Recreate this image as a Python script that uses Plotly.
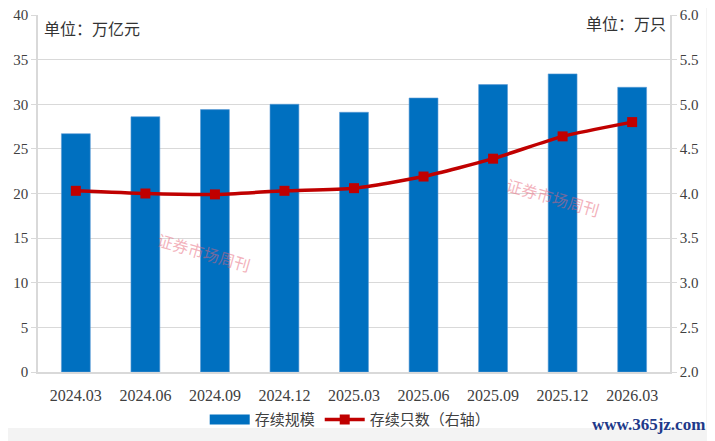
import plotly.graph_objects as go

# 数据
periods = ["2024.03", "2024.06", "2024.09", "2024.12", "2025.03",
           "2025.06", "2025.09", "2025.12", "2026.03"]
scale_trillion = [26.7, 28.6, 29.4, 30.0, 29.1, 30.7, 32.2, 33.4, 31.9]
count_10k = [4.03, 4.00, 3.99, 4.03, 4.06, 4.19, 4.39, 4.64, 4.80]

left_ticks = [0, 5, 10, 15, 20, 25, 30, 35, 40]
right_ticks = [2.0, 2.5, 3.0, 3.5, 4.0, 4.5, 5.0, 5.5, 6.0]

BLUE = "#0070C0"
RED = "#C00000"
GRID = "#d9d9d9"
TEXT = "#404040"
NUM_FONT = "Liberation Serif"
CJK_FONT = "Noto Sans CJK SC"

fig = go.Figure()

# 柱状图：存续规模（图例用下面的宽色块代替）
fig.add_trace(go.Bar(
    x=periods,
    y=scale_trillion,
    name="存续规模",
    marker=dict(color=BLUE, line=dict(color="#5b9bd5", width=0.6)),
    showlegend=False,
    yaxis="y",
))
fig.add_trace(go.Scatter(
    x=[None], y=[None],
    name="存续规模",
    mode="lines",
    line=dict(color=BLUE, width=11),
))

# 折线：存续只数（右轴）
fig.add_trace(go.Scatter(
    x=periods,
    y=count_10k,
    name="存续只数（右轴）",
    mode="lines+markers",
    line=dict(color=RED, width=3.5, shape="spline", smoothing=0.6),
    marker=dict(symbol="square", size=10, color=RED),
    yaxis="y2",
))

# 页面 body 默认有 8px 边距，所以图比窗口小 8px
fig.update_layout(
    width=707,
    height=433,
    margin=dict(l=30, r=45, t=7, b=69, autoexpand=False),
    paper_bgcolor="white",
    plot_bgcolor="white",
    bargap=0.585,
    font=dict(family=CJK_FONT, color=TEXT, size=14),
    xaxis=dict(
        type="category",
        showline=True,
        linecolor=GRID,
        linewidth=1.5,
        ticks="",
        ticklabelstandoff=8,
        tickfont=dict(family=NUM_FONT, size=16, color=TEXT),
        showgrid=False,
        automargin=False,
    ),
    yaxis=dict(
        range=[0, 40],
        tickvals=left_ticks,
        showgrid=True,
        gridcolor=GRID,
        gridwidth=1.2,
        showline=True,
        linecolor=GRID,
        linewidth=1.5,
        ticks="outside",
        ticklen=5,
        tickcolor=GRID,
        tickfont=dict(family=NUM_FONT, size=15, color=TEXT),
        ticklabeloverflow="allow",
        zeroline=False,
        automargin=False,
    ),
    yaxis2=dict(
        range=[2, 6],
        tickvals=right_ticks,
        tickformat=".1f",
        overlaying="y",
        side="right",
        showgrid=False,
        showline=True,
        linecolor=GRID,
        linewidth=1.5,
        ticks="outside",
        ticklen=5,
        tickcolor=GRID,
        tickfont=dict(family=NUM_FONT, size=15, color=TEXT),
        ticklabeloverflow="allow",
        zeroline=False,
        automargin=False,
    ),
    legend=dict(
        orientation="h",
        x=0.494,
        xanchor="center",
        y=-0.134,
        yanchor="middle",
        font=dict(family=CJK_FONT, size=15, color=TEXT),
        itemwidth=40,
        traceorder="normal",
        bgcolor="rgba(0,0,0,0)",
    ),
    showlegend=True,
)

# 底部和右侧的浅灰边
fig.add_shape(type="rect", xref="paper", yref="paper",
              x0=-0.07, x1=1.08, y0=-0.157, y1=-0.2,
              fillcolor="#f3f3f3", line_width=0, layer="below")
fig.add_shape(type="rect", xref="paper", yref="paper",
              x0=1.057, x1=1.08, y0=-0.2, y1=1.05,
              fillcolor="#f3f3f3", line_width=0, layer="below")

# 单位标注
fig.add_annotation(x=0.006, y=0.964, xref="paper", yref="paper",
                   text="单位：万亿元", showarrow=False,
                   xanchor="left", yanchor="middle",
                   font=dict(family=CJK_FONT, size=16, color="#333333"))
fig.add_annotation(x=0.997, y=0.978, xref="paper", yref="paper",
                   text="单位：万只", showarrow=False,
                   xanchor="right", yanchor="middle",
                   font=dict(family=CJK_FONT, size=16, color="#333333"))

# 水印
for wx, wy in [(0.180, 0.336), (0.897, 0.490)]:
    fig.add_annotation(x=wx, y=wy, xref="paper", yref="paper",
                       text="证券市场周刊", showarrow=False,
                       textangle=16,
                       font=dict(family=CJK_FONT, size=16,
                                 color="rgba(230,100,120,0.5)"))

fig.add_annotation(x=1.0585, y=-0.148, xref="paper", yref="paper",
                   text="<b>www.365jz.com</b>", showarrow=False,
                   xanchor="right", yanchor="middle",
                   font=dict(family=NUM_FONT, size=17, color="#1e3a8a"))

fig.write_html("out.html")
